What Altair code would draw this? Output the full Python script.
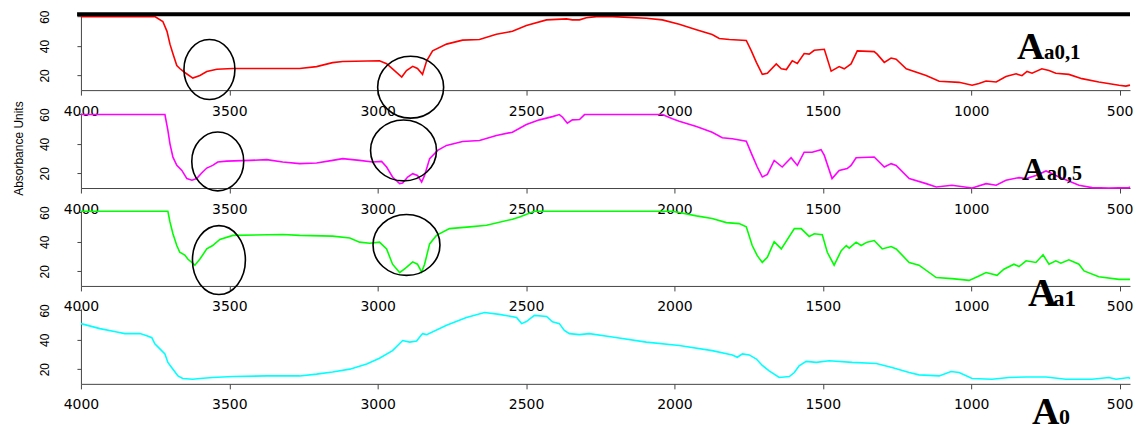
import altair as alt
import pandas as pd

# ---- spectra (wavenumber, absorbance) ----
red_wn = [4000, 3751, 3724, 3710, 3700, 3690, 3677, 3667, 3650, 3623, 3599, 3576, 3542, 3488, 3263, 3206, 3152, 3118,
          2994, 2970, 2950, 2919, 2903, 2882, 2866, 2849, 2835, 2815, 2768, 2714, 2657, 2600, 2546, 2499, 2431, 2364,
          2344, 2320, 2297, 2263, 2209, 2095, 2041, 1984, 1926, 1873, 1849, 1815, 1758, 1741, 1724, 1704, 1687, 1657,
          1640, 1623, 1603, 1586, 1563, 1546, 1529, 1495, 1472, 1445, 1428, 1405, 1384, 1327, 1317, 1293, 1270, 1253,
          1219, 1152, 1108, 1041, 997, 974, 950, 916, 883, 849, 829, 812, 795, 762, 738, 715, 671, 627, 570, 502, 479,
          465]
red_abs = [60, 60, 56.7, 50, 41.3, 34.7, 26.7, 24.7, 22, 18.2, 20, 22.7, 24.2, 24.7, 24.7, 26, 28.7, 29.5,
           30, 28, 24.5, 18.9, 23.3, 26.2, 24.7, 20.7, 30, 36.7, 41.3, 44, 44.5, 48, 50, 54, 57.8, 58.5,
           57.8, 57.8, 59.3, 60, 60, 58.9, 57.8, 54.9, 51.1, 47.8, 45.1, 44.5, 43.8, 36.7, 28.9, 20.7, 21.5, 27.8,
           24.5, 24, 30, 28.2, 34.9, 34.5, 37.1, 37.8, 22.9, 26, 24.5, 27.8, 36.7, 36.2, 34.5, 28.9, 31.8, 31.1,
           24.5, 20, 16, 15.3, 13.3, 14.5, 16.2, 15.5, 19.3, 21.1, 19.8, 22.7, 21.5, 24.5, 23.3, 21.5, 20.7, 17.8,
           15.5, 13.3, 12.7, 13.4]

mag_wn = [4000, 3717, 3707, 3700, 3690, 3677, 3660, 3643, 3626, 3610, 3593, 3576, 3556, 3539, 3509, 3431, 3374, 3320,
          3263, 3206, 3152, 3118, 3061, 3017, 2987, 2970, 2950, 2926, 2916, 2899, 2882, 2866, 2852, 2842, 2825, 2798,
          2768, 2714, 2657, 2600, 2546, 2499, 2455, 2411, 2388, 2377, 2361, 2344, 2320, 2303, 2041, 2007, 1984, 1926,
          1873, 1839, 1805, 1758, 1738, 1721, 1704, 1687, 1664, 1637, 1607, 1586, 1563, 1536, 1506, 1495, 1469, 1445,
          1418, 1405, 1388, 1327, 1293, 1270, 1253, 1209, 1152, 1118, 1065, 997, 950, 916, 883, 839, 815, 782, 748,
          704, 637, 593, 536, 469, 465]
mag_abs = [60, 60, 49.2, 40.1, 31, 25.4, 22, 16.4, 15.3, 16.4, 20.2, 23.6, 25.4, 27.7, 28.3, 28.8, 29.3, 27.7,
           26.6, 27, 28.8, 30, 28.8, 27.7, 28.1, 24.3, 17.5, 13, 13.4, 17.5, 19.8, 18.6, 14.1, 18.6, 30, 35.6,
           39, 41.7, 42.4, 45.8, 48, 53.2, 56.4, 58.6, 60, 58.2, 54.1, 56.4, 56.6, 60, 60, 57.1, 55.5, 51.9,
           48, 44.2, 43.5, 41.9, 32.2, 24.3, 17.5, 19.3, 28.8, 24.3, 30.6, 25.4, 34.4, 34.4, 36.1, 32.2, 16.4, 22,
           23.2, 25.4, 30.6, 31.1, 24.3, 26.6, 25.4, 16.4, 13, 10.7, 11.9, 10, 13, 11.9, 15.3, 17.1, 16.4, 18.6, 21.6,
           17.5, 11.9, 10.3, 10, 10.3, 10.8]

grn_wn = [4000, 3707, 3700, 3690, 3677, 3667, 3650, 3640, 3616, 3599, 3576, 3556, 3532, 3488, 3320, 3263, 3152, 3094,
          3061, 3027, 2994, 2970, 2950, 2926, 2903, 2882, 2866, 2852, 2842, 2825, 2802, 2758, 2690, 2633, 2546, 2522,
          2472, 2007, 1984, 1926, 1873, 1825, 1782, 1758, 1738, 1721, 1704, 1687, 1664, 1640, 1596, 1573, 1546, 1529,
          1502, 1485, 1462, 1438, 1421, 1411, 1388, 1371, 1351, 1327, 1300, 1270, 1253, 1209, 1176, 1118, 1065, 1007,
          974, 950, 913, 890, 856, 839, 815, 782, 758, 738, 715, 698, 671, 637, 620, 570, 502, 465]
grn_abs = [60.8, 60.8, 53.6, 45.5, 37.5, 32.9, 31, 28.3, 24.1, 28.3, 35.2, 37.5, 41.6, 44.4, 45, 44.4, 43.9, 42.6,
           39.8, 39.1, 39.8, 35.2, 24.8, 19.1, 22.6, 26.4, 24.8, 19.5, 24.8, 38.6, 44.4, 49, 50.2, 51.3, 55.4, 57,
           60.8, 60.8, 60, 57.7, 55.9, 53.1, 52.4, 50.2, 37.5, 30.6, 26, 29.5, 40.2, 35.2, 49, 49, 43.7, 45.5,
           44.8, 32.9, 24.1, 34, 37.5, 35.7, 39.8, 37.5, 39.8, 40.9, 35.2, 36.8, 35.2, 26, 24.1, 15.7, 15, 13.8,
           16.8, 19.1, 17.2, 21.4, 24.8, 23.2, 27.1, 26, 31.2, 24.8, 27.1, 25.5, 27.8, 24.8, 20.2, 16.3, 14.5, 14.5]

cyn_wn = [4000, 3936, 3879, 3852, 3801, 3778, 3761, 3751, 3734, 3717, 3707, 3690, 3673, 3657, 3623, 3599, 3556, 3488,
          3374, 3263, 3206, 3152, 3094, 3037, 2994, 2950, 2916, 2892, 2869, 2849, 2835, 2768, 2701, 2640, 2590, 2532,
          2515, 2499, 2472, 2431, 2411, 2388, 2371, 2354, 2320, 2287, 2209, 2095, 1984, 1873, 1805, 1788, 1771, 1748,
          1724, 1704, 1681, 1647, 1613, 1596, 1580, 1556, 1522, 1479, 1401, 1320, 1267, 1209, 1176, 1108, 1068, 1041,
          997, 930, 873, 815, 748, 681, 593, 536, 512, 469, 465]
cyn_abs = [51, 47.6, 45.3, 44.2, 44.2, 42.8, 41.4, 37.3, 33.8, 30.4, 24.6, 20, 15.4, 13.6, 13.1, 13.6, 14.3, 15,
           15.4, 15.4, 16.6, 18.1, 20, 23.5, 27.4, 32.6, 39.5, 38.4, 39.1, 44.2, 43.5, 49.9, 55.2, 58.6, 57.3, 55.2,
           51, 52.4, 56.6, 55.9, 52.2, 51, 46.4, 44.2, 43.5, 44.2, 41.9, 38.4, 36.1, 32.6, 29.7, 28.1, 30.4, 29.7,
           26.9, 22.5, 18.8, 14.3, 15, 17.7, 22.3, 25.3, 24.6, 25.7, 24.6, 23.9, 21.2, 17.7, 16.1, 15.4, 18.4, 17.7,
           13.6, 13.1, 14.3, 14.7, 14.7, 13.1, 13.1, 14.3, 13.1, 14.3, 13.6]

x_ticks = [4000, 3500, 3000, 2500, 2000, 1500, 1000, 500]
y_ticks = [20, 40, 60]
panel_labels = ["a0,1", "a0,5", "a1", "0"]

# ---- layout / style ----
X_DOMAIN = [4000, 465]
Y_DOMAIN = [10, 61]
PW, PH = 1050, 75
GREY = "#444444"


def ellipse_path(ratio):
    r = round(ratio, 3)
    return f"M {-r},0 A {r},1 0 1,1 {r},0 A {r},1 0 1,1 {-r},0 Z"


panels = [
    dict(wn=red_wn, ab=red_abs, color="#ff0000", sub=panel_labels[0],
         lab=(846, 31.3), a_size=38, sub_size=21, sub_dx=27,
         ellipses=[(3567, 24.0, 51, 60), (2889, 12.0, 66, 62)], title=False, top_rule=True),
    dict(wn=mag_wn, ab=mag_abs, color="#ff00ff", sub=panel_labels[1],
         lab=(829, 15.3), a_size=32, sub_size=20, sub_dx=25,
         ellipses=[(3539, 28.1, 52, 59), (2913, 35.6, 66, 61)], title=True, top_rule=False),
    dict(wn=grn_wn, ab=grn_abs, color="#00ff00", sub=panel_labels[2],
         lab=(809, -3.9), a_size=40, sub_size=23, sub_dx=25,
         ellipses=[(3535, 27.6, 53, 69), (2903, 37.9, 67, 61)], title=False, top_rule=False),
    dict(wn=cyn_wn, ab=cyn_abs, color="#00ffff", sub=panel_labels[3],
         lab=(795, -17.3), a_size=38, sub_size=22, sub_dx=27,
         ellipses=[], title=False, top_rule=False),
]


def build(p):
    x_axis = alt.Axis(values=x_ticks, format="d", grid=False, tickSize=5, labelPadding=9,
                      labelFont="DejaVu Sans", labelFontSize=14, labelColor="black",
                      domainColor=GREY, tickColor=GREY, labelFlush=False, labelOverlap=False,
                      title=None)
    if p["title"]:
        y_axis = alt.Axis(values=y_ticks, grid=False, tickSize=4, labelAngle=270, labelAlign="center",
                          labelBaseline="bottom", labelPadding=25, labelFont="Liberation Sans",
                          labelFontSize=12, labelColor="black", domainColor=GREY, tickColor=GREY,
                          labelFlush=False, labelOverlap=False,
                          title="Absorbance Units", titleAngle=270, titleX=-55, titleY=35,
                          titleAlign="center", titleBaseline="bottom", titleFont="Liberation Sans",
                          titleFontSize=12, titleFontWeight="normal", titleColor="black")
    else:
        y_axis = alt.Axis(values=y_ticks, grid=False, tickSize=4, labelAngle=270, labelAlign="center",
                          labelBaseline="bottom", labelPadding=25, labelFont="Liberation Sans",
                          labelFontSize=12, labelColor="black", domainColor=GREY, tickColor=GREY,
                          labelFlush=False, labelOverlap=False, title=None)
    xenc = alt.X("wn:Q", scale=alt.Scale(domain=X_DOMAIN, nice=False, zero=False), axis=x_axis)
    yenc = alt.Y("ab:Q", scale=alt.Scale(domain=Y_DOMAIN, nice=False, zero=False), axis=y_axis)

    df = pd.DataFrame({"wn": p["wn"], "ab": p["ab"]})
    layers = [alt.Chart(df).mark_line(color=p["color"], strokeWidth=1.6).encode(x=xenc, y=yenc)]

    for (ewn, eab, ew, eh) in p["ellipses"]:
        edf = pd.DataFrame({"wn": [ewn], "ab": [eab]})
        layers.append(
            alt.Chart(edf).mark_point(shape=ellipse_path(ew / eh), size=eh * eh, filled=False,
                                      color="black", strokeWidth=1.6, opacity=1)
            .encode(x=xenc, y=yenc))

    ldf = pd.DataFrame({"wn": [p["lab"][0]], "ab": [p["lab"][1]], "t": ["A"], "s": [p["sub"]]})
    layers.append(
        alt.Chart(ldf).mark_text(font="Liberation Serif", fontWeight="bold", fontSize=p["a_size"],
                                 align="left", baseline="alphabetic", color="black")
        .encode(x=xenc, y=yenc, text="t:N"))
    layers.append(
        alt.Chart(ldf).mark_text(font="Liberation Serif", fontWeight="bold", fontSize=p["sub_size"],
                                 align="left", baseline="alphabetic", color="black", dx=p["sub_dx"])
        .encode(x=xenc, y=yenc, text="s:N"))

    if p["top_rule"]:
        rdf = pd.DataFrame({"wn": [4013], "wn2": [465], "ab": [61.7]})
        layers.append(
            alt.Chart(rdf).mark_rule(color="black", strokeWidth=4)
            .encode(x=xenc, x2="wn2:Q", y=yenc))

    return alt.layer(*layers).properties(width=PW, height=PH)


chart = (
    alt.vconcat(*[build(p) for p in panels], spacing=23, bounds="flush")
    .properties(padding={"left": 5, "top": 1, "right": 0, "bottom": 0}, background="white")
    .configure_view(stroke=None)
)

chart.save("out.html", embed_options={"renderer": "svg", "actions": False})
